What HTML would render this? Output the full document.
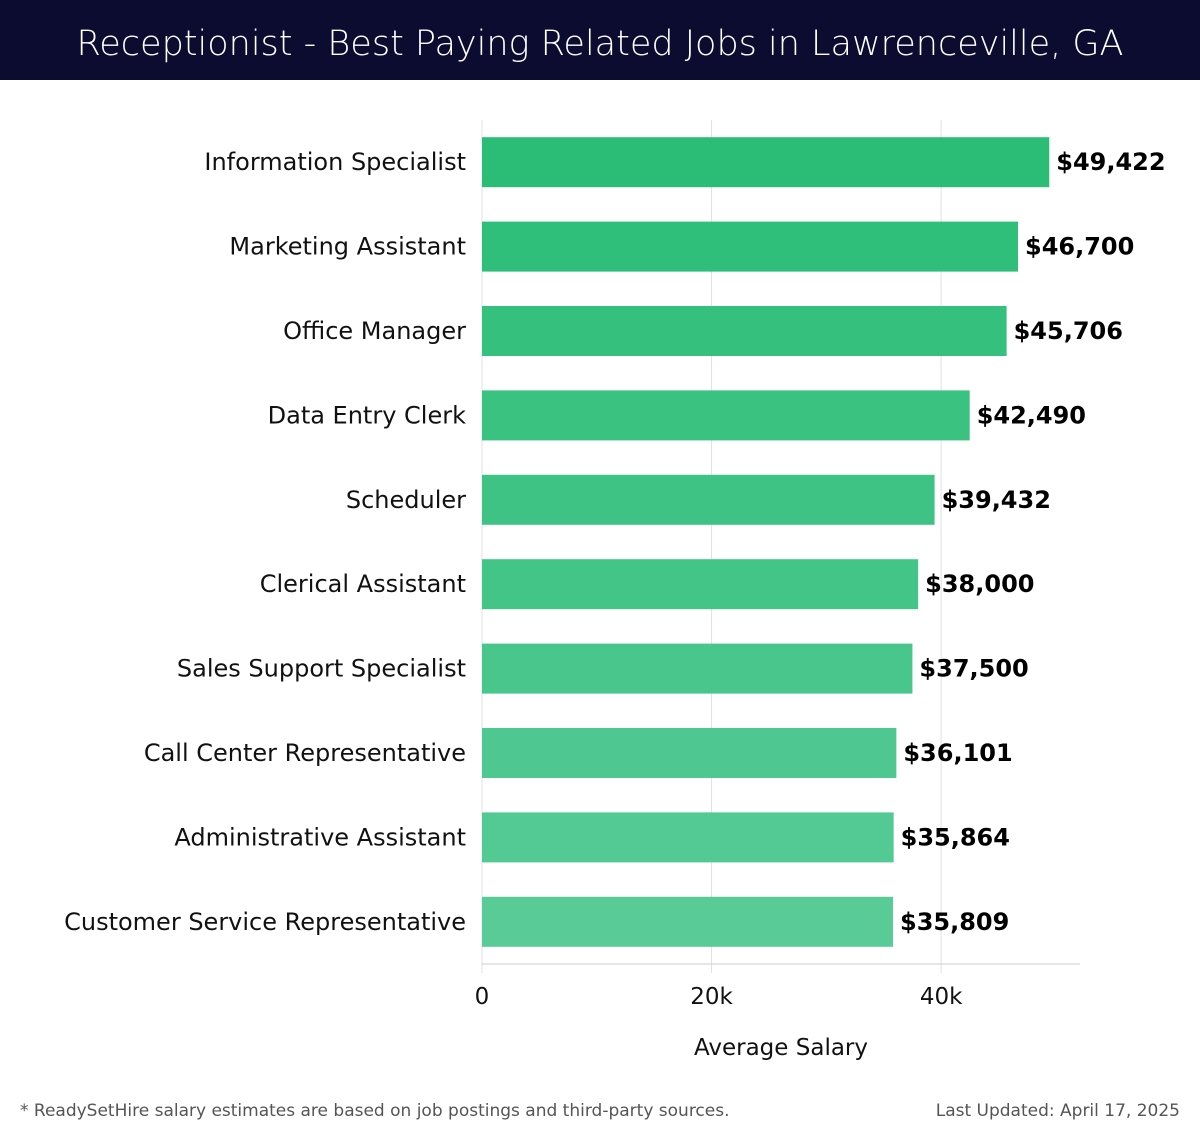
<!DOCTYPE html>
<html><head><meta charset="utf-8"><style>
body{margin:0;width:1200px;height:1140px;background:#fff;font-family:"Liberation Sans","DejaVu Sans",sans-serif;overflow:hidden}
#title{position:absolute;left:0;top:0;width:1200px;height:80px;background:#0b0c30;color:#fff;font-size:35px;text-align:center;line-height:88px;font-family:"DejaVu Sans","Liberation Sans",sans-serif;font-weight:300}
.foot{position:absolute;top:1101px;font-size:17px;color:#555;font-family:"DejaVu Sans","Liberation Sans",sans-serif}
</style></head><body>
<div id="title">Receptionist - Best Paying Related Jobs in Lawrenceville, GA</div>
<svg id="chart" width="1200" height="1140" style="position:absolute;left:0;top:0"></svg>
<div class="foot" style="left:20px">* ReadySetHire salary estimates are based on job postings and third-party sources.</div>
<div class="foot" style="right:20px">Last Updated: April 17, 2025</div>
<script>
const categories=["Information Specialist","Marketing Assistant","Office Manager","Data Entry Clerk","Scheduler","Clerical Assistant","Sales Support Specialist","Call Center Representative","Administrative Assistant","Customer Service Representative"];
const salaries=[49422,46700,45706,42490,39432,38000,37500,36101,35864,35809];
const valueLabels=["$49,422","$46,700","$45,706","$42,490","$39,432","$38,000","$37,500","$36,101","$35,864","$35,809"];
const tickValues=[0,20000,40000];
const tickLabels=["0","20k","40k"];
const NS="http://www.w3.org/2000/svg";
const svg=document.getElementById('chart');
const x0=482,x1=1080,xMax=52100,top0=120,bot=964;
const band=(bot-top0)/categories.length;
const xs=v=>x0+(v/xMax)*(x1-x0);
const yc=i=>top0+band*(i+0.5);
function mk(t,a){const e=document.createElementNS(NS,t);for(const k in a)e.setAttribute(k,a[k]);svg.appendChild(e);return e;}
tickValues.forEach((v,i)=>{
 const g=mk('line',{x1:xs(v),x2:xs(v),y1:top0,y2:bot+9,stroke:'#e0e0e0','stroke-width':1});
 
 
 const t=mk('text',{x:xs(v),y:1004,'font-size':23,'text-anchor':'middle',fill:'#111','font-family':'DejaVu Sans, sans-serif'});
 t.textContent=tickLabels[i];
 
 
});
const ax=mk('line',{x1:x0,x2:x1,y1:bot,y2:bot,stroke:'#ccc','stroke-width':1});


const c0=[43,189,118],c1=[88,203,151];
categories.forEach((c,i)=>{
 const f=i/(categories.length-1);
 const col=`rgb(${c0.map((v,k)=>Math.round(v+(c1[k]-v)*f)).join(',')})`;
 const h=50,y=yc(i)-h/2;
 const r=mk('rect',{x:x0,y:y,width:xs(salaries[i])-x0,height:h,fill:col});
 
 
 const l=mk('text',{x:466,y:yc(i)+8,'font-size':24,'text-anchor':'end',fill:'#111','font-family':'DejaVu Sans, sans-serif'});
 l.textContent=c;
 
 
 const v=mk('text',{x:xs(salaries[i])+7,y:yc(i)+8,'font-size':24,'font-weight':'bold',fill:'#000','font-family':'DejaVu Sans, sans-serif'});
 v.textContent=valueLabels[i];
 
 
});
const xt=mk('text',{x:781,y:1055,'font-size':23,'text-anchor':'middle',fill:'#111','font-family':'DejaVu Sans, sans-serif'});
xt.textContent='Average Salary';


</script>
</body></html>
